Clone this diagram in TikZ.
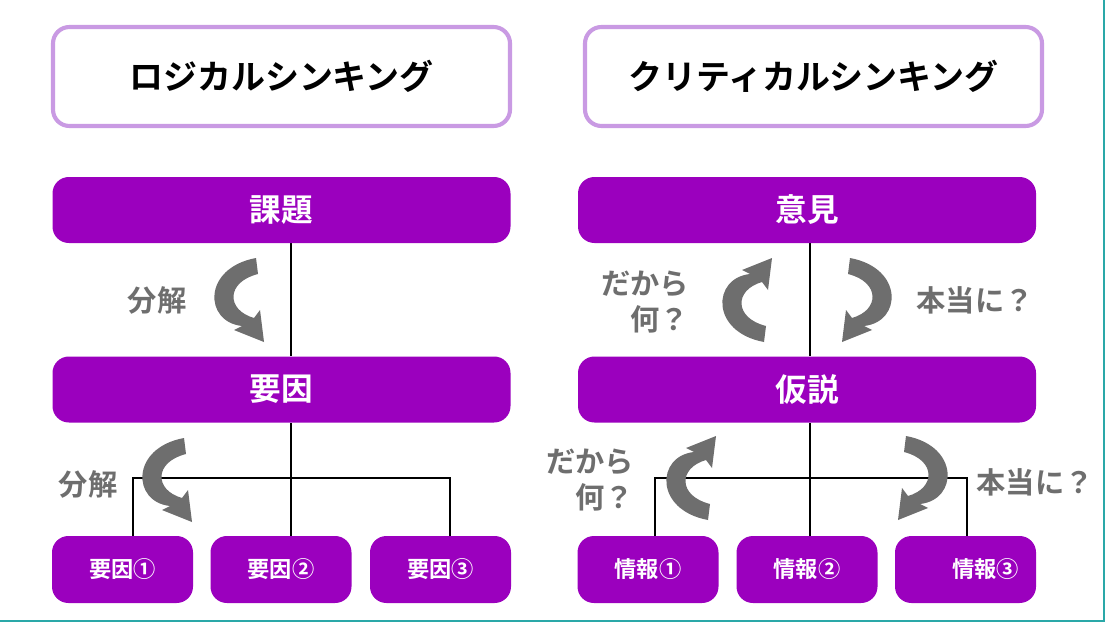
\documentclass[tikz,border=0pt]{standalone}
\usepackage{fontspec}
\newfontfamily\jp{Noto Sans CJK JP Bold}
\definecolor{pur}{HTML}{9B00BE}
\definecolor{lav}{HTML}{C99AE3}
\definecolor{gr}{HTML}{6E6E6E}
\definecolor{teal}{HTML}{2AA8A8}
\newcommand\carrow[4]{%
\begin{scope}[shift={(#1,#2)},xscale=#3,yscale=#4]
\fill[gr] (16,-42) .. controls (-38,-32) and (-36,22) .. (2,26) -- (-6,30) -- (24,42) -- (20,10) -- (14,18) .. controls (-14,10) and (-14,-18) .. (18,-26) -- cycle;
\end{scope}}
\begin{document}
\begin{tikzpicture}[x=0.03cm,y=-0.03cm,
 title/.style={draw=lav,line width=3.5pt,fill=white,rounded corners=14pt,minimum width=457*0.03cm,minimum height=99*0.03cm,font=\jp\fontsize{29}{30}\selectfont},
 bar/.style={fill=pur,rounded corners=14pt,minimum width=458*0.03cm,minimum height=66*0.03cm,text=white,font=\jp\fontsize{27}{30}\selectfont},
 sbox/.style={fill=pur,rounded corners=14pt,minimum width=141*0.03cm,minimum height=67*0.03cm,text=white,font=\jp\fontsize{19}{20}\selectfont},
 lbl/.style={text=gr,font=\jp\fontsize{25}{30}\selectfont,align=right},
 ln/.style={line width=1.2pt}]
\useasboundingbox (0,0) rectangle (1105,622);
\fill[white] (0,0) rectangle (1105,622);
\draw[teal,line width=1.5pt] (1104,0) -- (1104,621) -- (0,621);
\node[title] (t1) at (281.5,76.5) {ロジカルシンキング};
\node[title] (t2) at (813.5,76.5) {クリティカルシンキング};
\coordinate (l1) at (291,243); \coordinate (l2) at (291,356);
\coordinate (l3) at (291,423);
\coordinate (la) at (133,478); \coordinate (lc) at (450,478);
\coordinate (la2) at (133,536); \coordinate (lc2) at (450,536); \coordinate (lb2) at (291,536);
\draw[ln] (l1)--(l2); \draw[ln] (l3)--(lb2); \draw[ln] (la2)--(la)--(lc)--(lc2);
\coordinate (r1) at (810,243); \coordinate (r2) at (810,356);
\coordinate (r3) at (810,423);
\coordinate (ra) at (655,478); \coordinate (rc) at (967,478);
\coordinate (ra2) at (655,536); \coordinate (rc2) at (967,536); \coordinate (rb2) at (810,536);
\draw[ln] (r1)--(r2); \draw[ln] (r3)--(rb2); \draw[ln] (ra2)--(ra)--(rc)--(rc2);
\node[bar] (a1) at (281.5,210) {課題};
\node[bar] (a2) at (281.5,389.5) {要因};
\node[bar] (b1) at (807,210) {意見};
\node[bar] (b2) at (807,389.5) {仮説};
\node[sbox] (c1) at (122.5,569.5) {要因①};
\node[sbox] (c2) at (281,569.5) {要因②};
\node[sbox] (c3) at (440.5,569.5) {要因③};
\node[sbox] (d1) at (648,569.5) {情報①};
\node[sbox] (d2) at (807,569.5) {情報②};
\node[sbox,text width=3.2cm,align=right] (d3) at (965.5,569.5) {情報③};
\carrow{240}{300}{1}{1}
\carrow{168}{480}{1}{1}
\carrow{748}{300}{1}{-1}
\carrow{866}{300}{-1}{1}
\carrow{692}{478}{1}{-1}
\carrow{922}{478}{-1}{1}
\node[lbl] (g1) at (157,300) {分解};
\node[lbl] (g2) at (88,484) {分解};
\node[lbl] (g3) at (645,302) {だから\\何？};
\node[lbl] (g4) at (590,480) {だから\\何？};
\node[lbl] (g5) at (975,300) {本当に？};
\node[lbl] (g6) at (1035,482) {本当に？};
\end{tikzpicture}
\end{document}
